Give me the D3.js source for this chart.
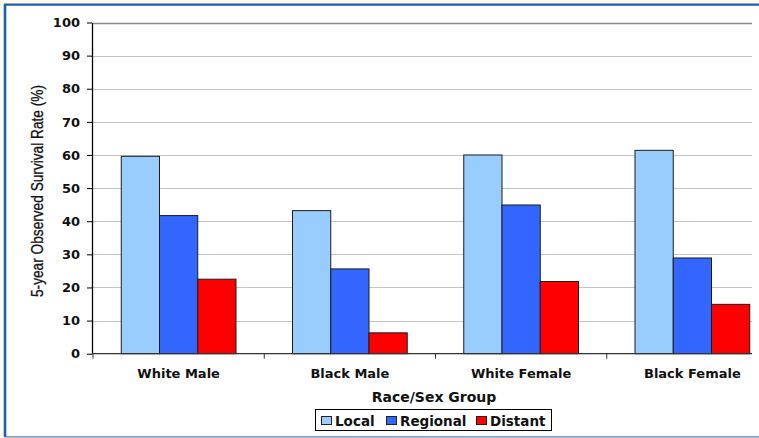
<html lang="en">
<head>
    <meta charset="UTF-8">
    <title>5-year Observed Survival Rate</title>
    <script src="https://d3js.org/d3.v7.js"></script>
    <style>
        body { margin: 0; background: #fffbe8; }
        svg { display: block; }
    </style>
</head>
<body>
    <div id="chart"></div>
    <script>
        // data
        const groups = ["White Male", "Black Male", "White Female", "Black Female"];
        const stages = ["Local", "Regional", "Distant"];
        const local = [59.6, 43.2, 60.0, 61.4];
        const regional = [41.7, 25.6, 44.9, 28.9];
        const distant = [22.5, 6.3, 21.8, 14.9];
        const yTicks = [0, 10, 20, 30, 40, 50, 60, 70, 80, 90, 100];
        const colors = ["#99ccff", "#3366ff", "#ff0000"];

        const width = 759, height = 438;
        const series = [local, regional, distant];

        const svg = d3.select("#chart").append("svg")
            .attr("width", width)
            .attr("height", height);

        // frame: cream outside, blue border, white inside
        svg.append("rect").attr("x", 0).attr("y", 0).attr("width", width).attr("height", height).attr("fill", "#fffbe8");
        svg.append("rect").attr("x", 3.5).attr("y", 3.5).attr("width", width).attr("height", 433)
            .attr("fill", "#ffffff");
        svg.append("line").attr("x1", 4).attr("x2", width).attr("y1", 4.6).attr("y2", 4.6)
            .attr("stroke", "#1a5fb4").attr("stroke-width", 2.4);
        svg.append("line").attr("x1", 5).attr("x2", 5).attr("y1", 4).attr("y2", 437)
            .attr("stroke", "#1a5fb4").attr("stroke-width", 2.6);
        svg.append("line").attr("x1", 4).attr("x2", width).attr("y1", 436.8).attr("y2", 436.8)
            .attr("stroke", "#4a86c5").attr("stroke-width", 1.2);

        const plotLeft = 92, plotRight = 752;
        const y = d3.scaleLinear().domain([0, 100]).range([353.7, 22.5]);
        const x0 = d3.scaleBand().domain(groups).range([93, 778]).padding(0);
        const bw = x0.bandwidth();
        const x1 = d3.scaleBand().domain(stages).range([bw * 0.165, bw * 0.835]).padding(0);

        // gridlines
        svg.append("g")
            .selectAll("line")
            .data(yTicks.filter(t => t > 0))
            .join("line")
            .attr("x1", plotLeft).attr("x2", plotRight)
            .attr("y1", d => Math.round(y(d)) + 0.5).attr("y2", d => Math.round(y(d)) + 0.5)
            .attr("stroke", d => d === 100 ? "#8c8c8c" : "#c4c4c4")
            .attr("stroke-width", d => d === 100 ? 1.4 : 1);

        svg.append("defs").append("clipPath").attr("id", "plotclip")
            .append("rect").attr("x", 0).attr("y", 0).attr("width", plotRight + 1).attr("height", height);

        // bars
        const plot = svg.append("g").attr("clip-path", "url(#plotclip)");
        plot.selectAll("g.grp")
            .data(groups)
            .join("g")
            .attr("class", "grp")
            .attr("transform", d => `translate(${x0(d)},0)`)
            .selectAll("rect")
            .data((g, gi) => stages.map((s, si) => ({ stage: s, value: series[si][gi], i: si })))
            .join("rect")
            .attr("x", d => x1(d.stage))
            .attr("y", d => y(d.value))
            .attr("width", x1.bandwidth())
            .attr("height", d => y(0) - y(d.value))
            .attr("fill", d => colors[d.i])
            .attr("stroke", "#1c1c1c")
            .attr("stroke-width", 1);

        // y axis
        const yAxis = svg.append("g")
            .attr("transform", `translate(${plotLeft},0)`)
            .call(d3.axisLeft(y).tickValues(yTicks).tickSize(5).tickPadding(7).tickSizeOuter(0));
        yAxis.select(".domain").attr("stroke", "#000").attr("stroke-width", 1.3);
        yAxis.selectAll(".tick line").attr("stroke", "#000");
        yAxis.selectAll("text")
            .style("font-family", "DejaVu Sans")
            .style("font-weight", "bold")
            .style("font-size", "13px")
            .attr("fill", "#111");

        // x axis
        svg.append("line")
            .attr("x1", plotLeft).attr("x2", plotRight)
            .attr("y1", y(0)).attr("y2", y(0))
            .attr("stroke", "#333").attr("stroke-width", 1.3);
        svg.append("g")
            .selectAll("line")
            .data(groups)
            .join("line")
            .attr("x1", d => x0(d)).attr("x2", d => x0(d))
            .attr("y1", y(0)).attr("y2", y(0) + 5)
            .attr("stroke", "#333");
        svg.append("g")
            .selectAll("text")
            .data(groups)
            .join("text")
            .attr("x", d => x0(d) + bw / 2)
            .attr("y", 378)
            .attr("text-anchor", "middle")
            .style("font-family", "DejaVu Sans")
            .style("font-weight", "bold")
            .style("font-size", "13px")
            .attr("fill", "#111")
            .text(d => d);

        // axis titles
        svg.append("text")
            .attr("x", 434).attr("y", 401.5)
            .attr("text-anchor", "middle")
            .style("font-family", "DejaVu Sans")
            .style("font-weight", "bold")
            .style("font-size", "14px")
            .attr("fill", "#111")
            .text("Race/Sex Group");

        svg.append("text")
            .attr("transform", "translate(43,191) rotate(-90)")
            .attr("text-anchor", "middle")
            .attr("textLength", 212)
            .attr("lengthAdjust", "spacingAndGlyphs")
            .style("font-family", "Liberation Sans")
            .style("font-size", "16px")
            .style("stroke", "#111")
            .style("stroke-width", 0.3)
            .attr("fill", "#111")
            .text("5-year Observed Survival Rate (%)");

        // legend
        const legend = svg.append("g");
        legend.append("rect")
            .attr("x", 315.5).attr("y", 409.5).attr("width", 236).attr("height", 21)
            .attr("fill", "#fff").attr("stroke", "#000").attr("stroke-width", 1);
        const legendX = [321, 386, 476];
        stages.forEach((s, i) => {
            legend.append("rect")
                .attr("x", legendX[i] + 0.5).attr("y", 416.5).attr("width", 10).attr("height", 8)
                .attr("fill", colors[i]).attr("stroke", "#222").attr("stroke-width", 1);
            legend.append("text")
                .attr("x", legendX[i] + 14).attr("y", 425.5)
                .style("font-family", "DejaVu Sans")
                .style("font-weight", "bold")
                .style("font-size", "13.5px")
                .attr("fill", "#111")
                .text(s);
        });
    </script>
</body>
</html>
